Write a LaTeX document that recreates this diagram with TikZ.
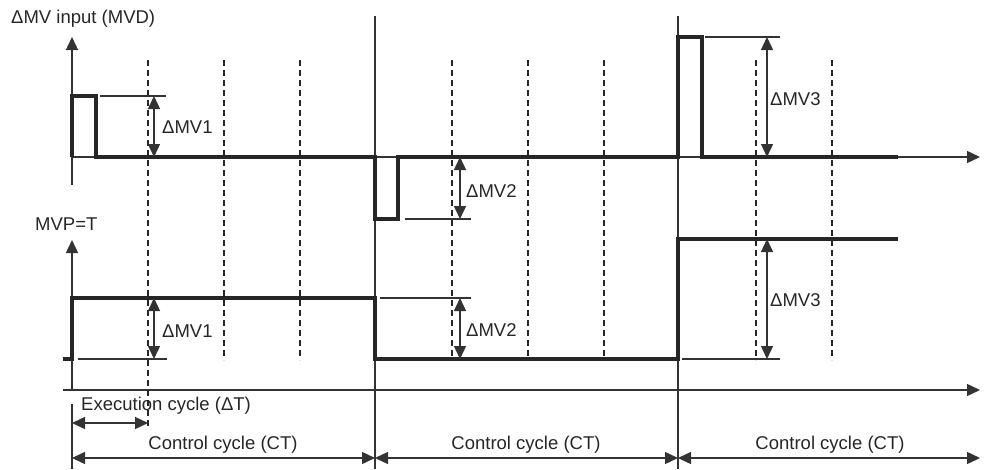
\documentclass[tikz,border=0pt]{standalone}
\usepackage{fontspec}
\setmainfont{Liberation Sans}
\usetikzlibrary{arrows.meta}
\begin{document}
\begin{tikzpicture}[x=1pt,y=-1pt,
  axisline/.style={line width=1.4pt,color=black!80},
  sigline/.style={line width=3.2pt,color=black!85,line join=miter},
  guideline/.style={line width=1.4pt,color=black!80},
  gridline/.style={line width=1.3pt,color=black!85,dash pattern=on 6pt off 4pt},
  onetip/.style={-{Triangle[length=13pt,width=12pt]}},
  twotip/.style={{Triangle[length=13pt,width=12pt]}-{Triangle[length=13pt,width=12pt]}},
  lbl/.style={inner sep=0pt,anchor=base west,font=\fontsize{18.5}{22}\selectfont,text=black!85},
  clbl/.style={inner sep=0pt,anchor=base,font=\fontsize{18.5}{22}\selectfont,text=black!85}]
\useasboundingbox (0,0) rectangle (988,469);

% ---------- coordinates ----------
\coordinate (yTb) at (72,185); \coordinate (yTt) at (72,37);
\coordinate (xTl) at (72,157); \coordinate (xTr) at (980,157);
\coordinate (yBb) at (72,390); \coordinate (yBt) at (72,240);
\coordinate (xBl) at (63,390); \coordinate (xBr) at (980,390);
\coordinate (sepAt) at (375,16); \coordinate (sepAb) at (375,469);
\coordinate (sepBt) at (678,16); \coordinate (sepBb) at (678,469);
\coordinate (lvt) at (72,404); \coordinate (lvb) at (72,469);

% ---------- separators and axes ----------
\draw[axisline] (sepAt) -- (sepAb);
\draw[axisline] (sepBt) -- (sepBb);
\draw[axisline] (lvt) -- (lvb);
\draw[axisline,onetip] (yTb) -- (yTt);
\draw[axisline,onetip] (xTl) -- (xTr);
\draw[axisline,onetip] (yBb) -- (yBt);
\draw[axisline,onetip] (xBl) -- (xBr);

% ---------- dashed grid ----------
\coordinate (g0t) at (148,60); \coordinate (g0b) at (148,428);
\draw[gridline] (g0t) -- (g0b);
\foreach \gx [count=\i] in {224,300,452,528,604,756,832}{
  \coordinate (g\i t) at (\gx,60); \coordinate (g\i b) at (\gx,360);
  \draw[gridline] (g\i t) -- (g\i b);
}

% ---------- top signal (MVD) ----------
\coordinate (t0) at (72,157); \coordinate (t1) at (72,96); \coordinate (t2) at (96,96);
\coordinate (t3) at (96,157); \coordinate (t4) at (375,157); \coordinate (t5) at (375,219);
\coordinate (t6) at (398,219); \coordinate (t7) at (398,157); \coordinate (t8) at (678,157);
\coordinate (t9) at (678,37); \coordinate (t10) at (702,37); \coordinate (t11) at (702,157);
\coordinate (t12) at (898,157);
\draw[sigline] (t0) -- (t1) -- (t2) -- (t3) -- (t4) -- (t5) -- (t6) -- (t7) -- (t8) -- (t9) -- (t10) -- (t11) -- (t12);

% top guides and dimensions
\coordinate (gt1a) at (100,96); \coordinate (gt1b) at (166,96);
\coordinate (gt2a) at (405,219); \coordinate (gt2b) at (471,219);
\coordinate (gt3a) at (705,37); \coordinate (gt3b) at (780,37);
\draw[guideline] (gt1a) -- (gt1b);
\draw[guideline] (gt2a) -- (gt2b);
\draw[guideline] (gt3a) -- (gt3b);
\coordinate (dt1a) at (154,96); \coordinate (dt1b) at (154,157);
\coordinate (dt2a) at (460,157); \coordinate (dt2b) at (460,219);
\coordinate (dt3a) at (767,37); \coordinate (dt3b) at (767,157);
\draw[guideline,twotip] (dt1a) -- (dt1b);
\draw[guideline,twotip] (dt2a) -- (dt2b);
\draw[guideline,twotip] (dt3a) -- (dt3b);

% ---------- bottom signal (MVP) ----------
\coordinate (b0) at (63,359); \coordinate (b1) at (72,359); \coordinate (b2) at (72,298);
\coordinate (b3) at (375,298); \coordinate (b4) at (375,359); \coordinate (b5) at (678,359);
\coordinate (b6) at (678,239); \coordinate (b7) at (898,239);
\draw[sigline] (b0) -- (b1) -- (b2) -- (b3) -- (b4) -- (b5) -- (b6) -- (b7);

\coordinate (gb1a) at (78,359); \coordinate (gb1b) at (167,359);
\coordinate (gb2a) at (380,298); \coordinate (gb2b) at (471,298);
\coordinate (gb3a) at (682,359); \coordinate (gb3b) at (780,359);
\draw[guideline] (gb1a) -- (gb1b);
\draw[guideline] (gb2a) -- (gb2b);
\draw[guideline] (gb3a) -- (gb3b);
\coordinate (db1a) at (154,298); \coordinate (db1b) at (154,359);
\coordinate (db2a) at (460,298); \coordinate (db2b) at (460,359);
\coordinate (db3a) at (767,239); \coordinate (db3b) at (767,359);
\draw[guideline,twotip] (db1a) -- (db1b);
\draw[guideline,twotip] (db2a) -- (db2b);
\draw[guideline,twotip] (db3a) -- (db3b);

% ---------- cycle arrows ----------
\coordinate (ea) at (72,423); \coordinate (eb) at (148,423);
\draw[guideline,twotip] (ea) -- (eb);
\coordinate (c0) at (72,458); \coordinate (c1) at (375,458);
\coordinate (c2) at (678,458); \coordinate (c3) at (980,458);
\draw[guideline,twotip] (c0) -- (c1);
\draw[guideline,twotip] (c1) -- (c2);
\draw[guideline,twotip] (c2) -- (c3);

% ---------- labels ----------
\node[lbl] (ttl) at (11,23) {ΔMV input (MVD)};
\node[lbl] (mvp) at (35,230) {MVP=T};
\node[lbl] (lt1) at (162,133) {ΔMV1};
\node[lbl] (lt2) at (466,197) {ΔMV2};
\node[lbl] (lt3) at (770,105) {ΔMV3};
\node[lbl] (lb1) at (162,337) {ΔMV1};
\node[lbl] (lb2) at (466,336) {ΔMV2};
\node[lbl] (lb3) at (770,306) {ΔMV3};
\node[lbl] (exe) at (81,410) {Execution cycle (ΔT)};
\node[clbl] (cc1) at (223,449) {Control cycle (CT)};
\node[clbl] (cc2) at (526,449) {Control cycle (CT)};
\node[clbl] (cc3) at (830,449) {Control cycle (CT)};
\end{tikzpicture}
\end{document}
